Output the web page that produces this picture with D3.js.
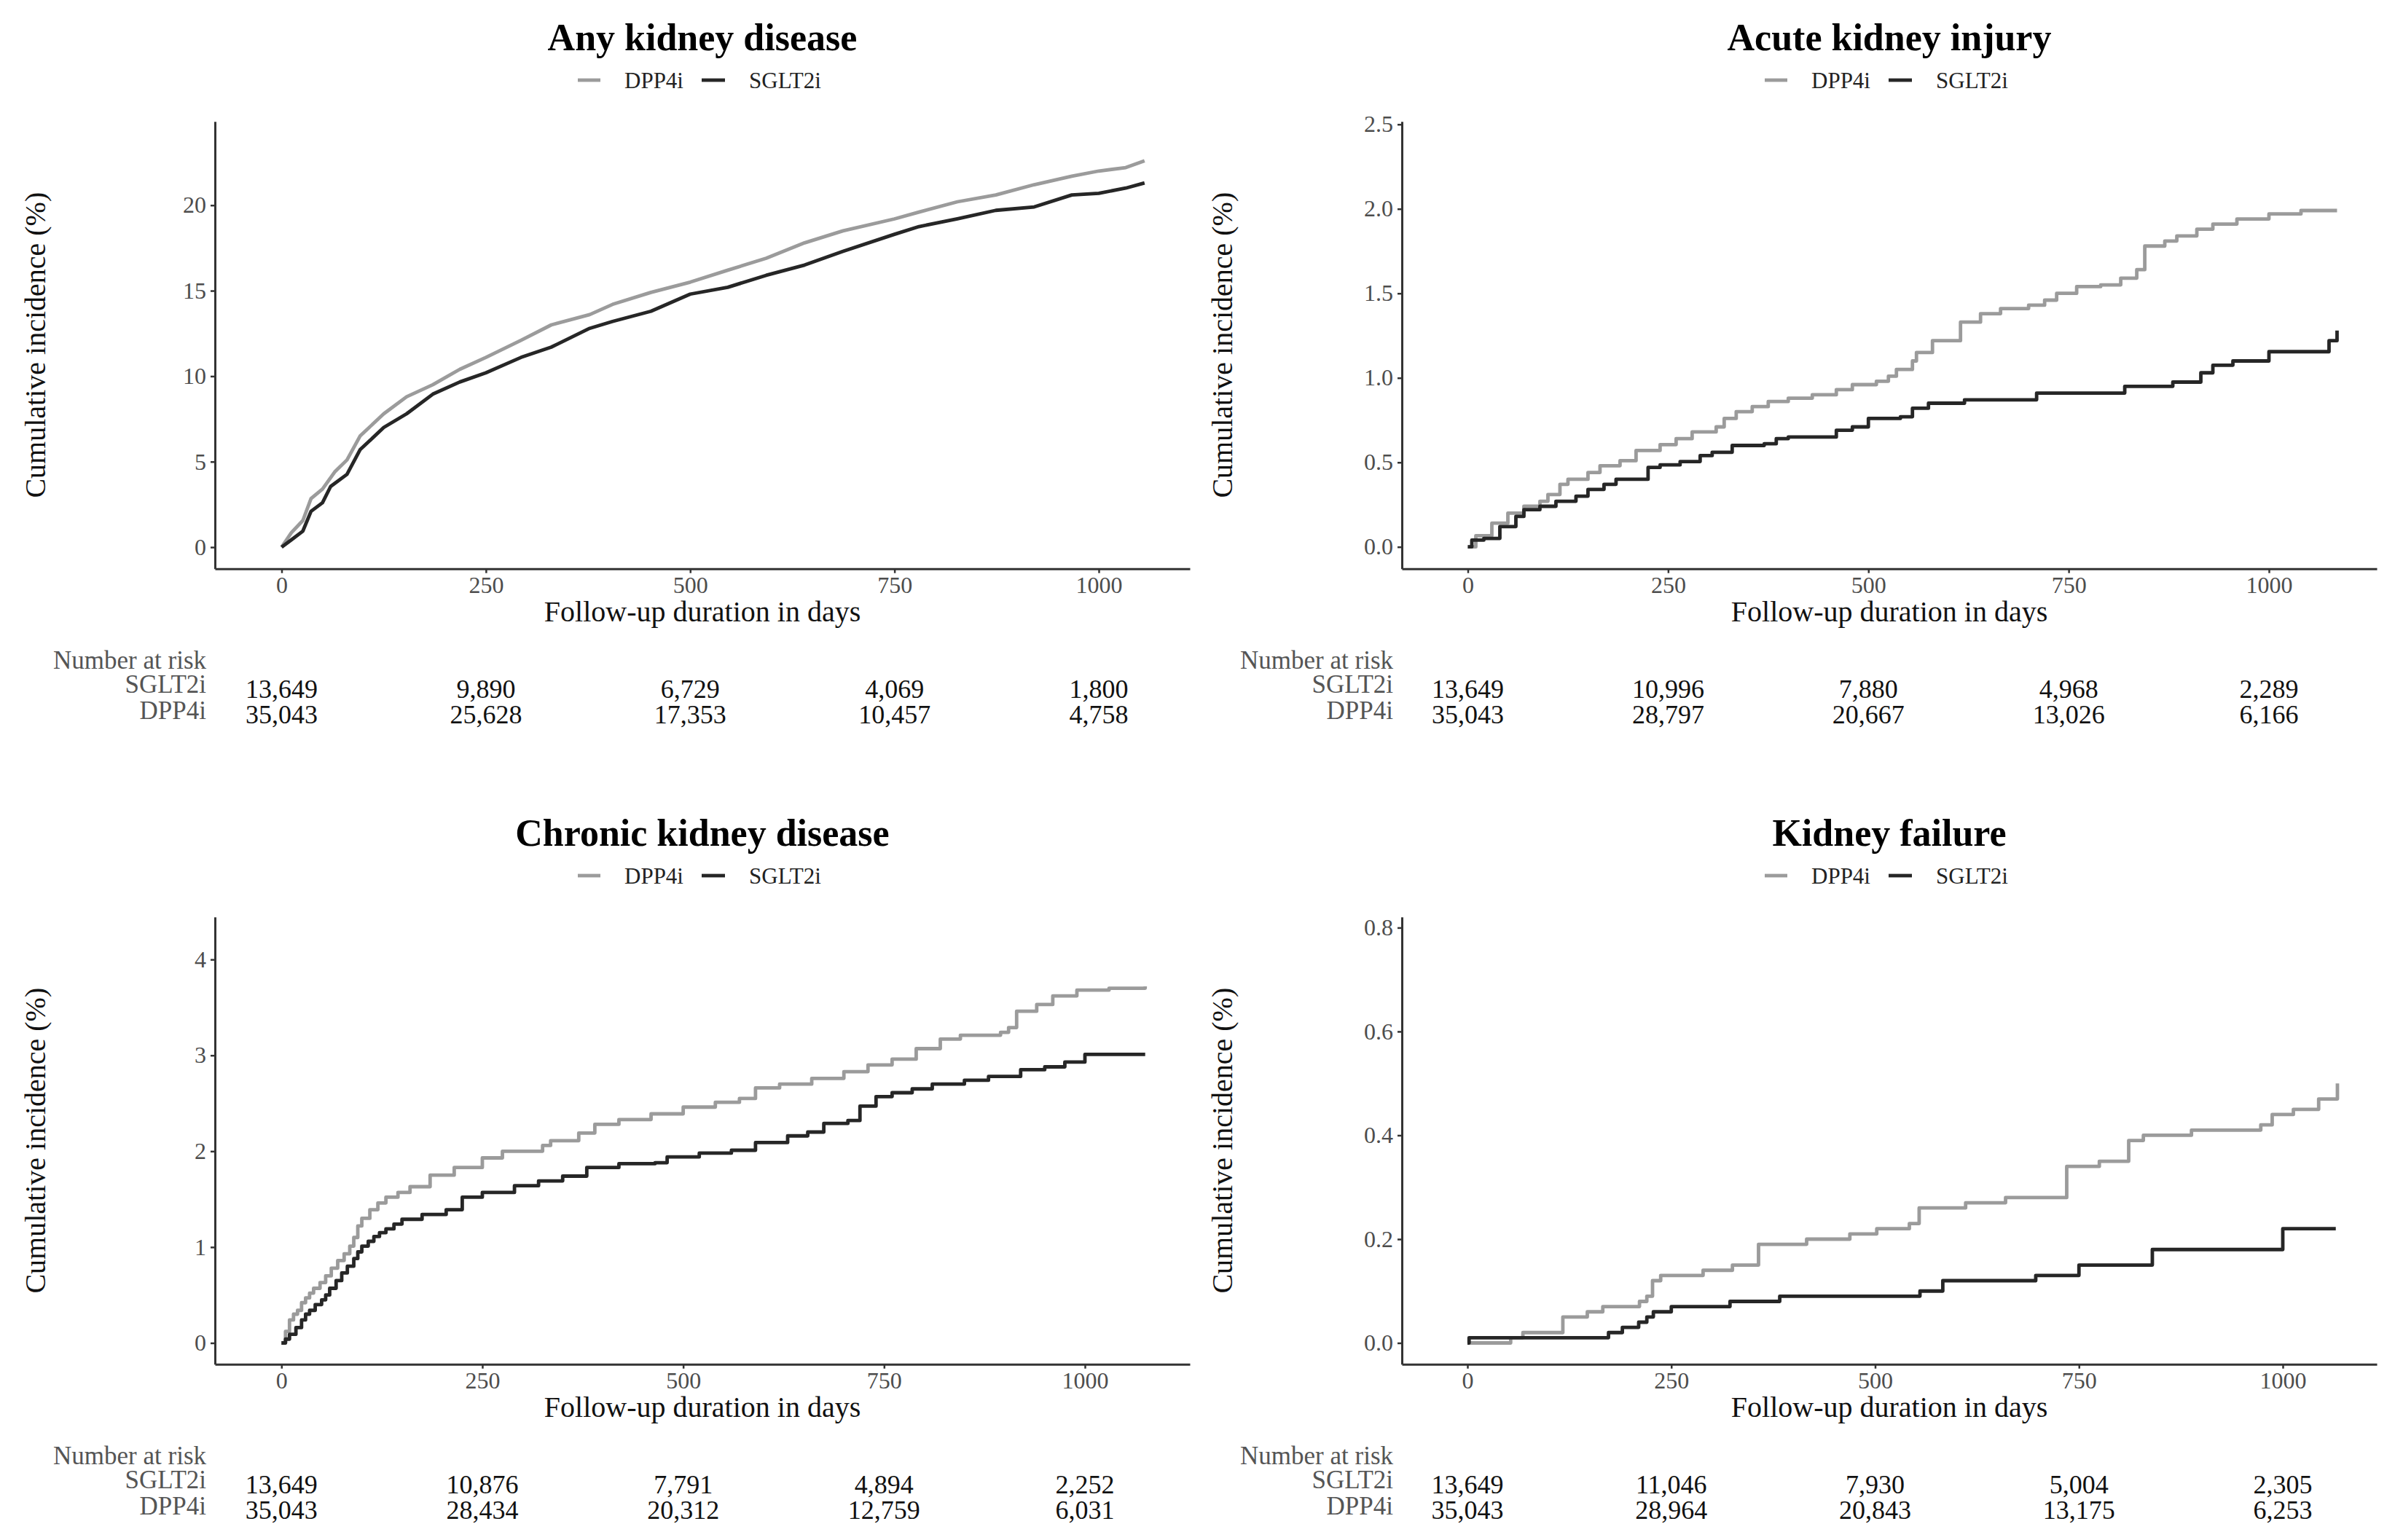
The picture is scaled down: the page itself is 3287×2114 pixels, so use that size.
<!DOCTYPE html>
<html>
<head>
<meta charset="utf-8">
<script src="https://cdn.jsdelivr.net/npm/d3@7"></script>
<style>
  html, body { margin: 0; padding: 0; background: #ffffff; }
  svg { display: block; }
  text { font-family: "Liberation Serif", "Times New Roman", serif; }
</style>
</head>
<body>
<svg id="chart" width="3287" height="2114"></svg>
<script>
// ---------------- DATA ----------------
const panelTitles = ["Any kidney disease", "Acute kidney injury", "Chronic kidney disease", "Kidney failure"];
const seriesNames = ["DPP4i", "SGLT2i"];
const riskTimes = [0, 250, 500, 750, 1000];
const xTickValues = [0, 250, 500, 750, 1000];

// Panel 1: Any kidney disease
const anyDppDays  = [0,12,26,36,50,65,80,96,125,153,185,218,250,293,330,377,405,452,500,546,593,640,687,750,780,827,874,921,967,1000,1033,1056];
const anyDppVals  = [0,0.85,1.56,2.84,3.4,4.4,5.1,6.5,7.8,8.8,9.5,10.4,11.1,12.1,13.0,13.6,14.2,14.9,15.5,16.2,16.9,17.8,18.5,19.2,19.6,20.2,20.6,21.2,21.7,22.0,22.2,22.6];
const anySgltDays = [0,12,26,36,50,60,80,96,125,153,185,218,250,293,330,377,405,452,500,546,593,640,687,750,780,827,874,921,967,1000,1033,1056];
const anySgltVals = [0,0.43,0.94,2.1,2.6,3.55,4.26,5.7,7.0,7.8,8.95,9.66,10.2,11.1,11.7,12.8,13.2,13.8,14.8,15.2,15.9,16.5,17.3,18.3,18.75,19.2,19.7,19.9,20.6,20.7,21.0,21.3];
const anyYTicks   = [0, 5, 10, 15, 20];
const anyRiskSglt = ["13,649", "9,890", "6,729", "4,069", "1,800"];
const anyRiskDpp  = ["35,043", "25,628", "17,353", "10,457", "4,758"];

// Panel 2: Acute kidney injury
const akiDppDays  = [0,10,30,50,70,90,100,115,125,150,165,190,210,240,260,280,310,320,335,355,375,400,430,460,480,510,525,535,555,560,580,615,640,665,700,720,735,760,790,815,835,845,870,885,910,930,960,1000,1040,1085];
const akiDppVals  = [0,0.066,0.14,0.2,0.24,0.27,0.31,0.37,0.4,0.44,0.48,0.51,0.57,0.605,0.64,0.68,0.71,0.76,0.80,0.83,0.86,0.88,0.90,0.93,0.96,0.98,1.01,1.05,1.10,1.15,1.22,1.33,1.38,1.41,1.43,1.46,1.50,1.54,1.55,1.59,1.64,1.78,1.81,1.84,1.88,1.91,1.94,1.97,1.99,1.99];
const akiSgltDays = [0,5,20,40,60,70,90,110,135,150,170,185,225,240,265,290,305,330,370,385,400,460,480,500,540,555,575,620,710,820,880,915,930,955,1000,1075,1085];
const akiSgltVals = [0,0.04,0.05,0.12,0.18,0.22,0.24,0.27,0.30,0.34,0.37,0.40,0.47,0.485,0.505,0.54,0.56,0.60,0.61,0.64,0.65,0.69,0.71,0.76,0.77,0.82,0.85,0.87,0.91,0.95,0.975,1.03,1.075,1.10,1.155,1.22,1.28];
const akiYTicks   = [0, 0.5, 1.0, 1.5, 2.0, 2.5];
const akiRiskSglt = ["13,649", "10,996", "7,880", "4,968", "2,289"];
const akiRiskDpp  = ["35,043", "28,797", "20,667", "13,026", "6,166"];

// Panel 3: Chronic kidney disease
const ckdDppDays  = [0,5,10,15,20,25,30,35,40,48,55,62,70,78,85,90,95,100,110,120,130,145,160,185,215,250,275,325,335,370,390,420,460,500,540,570,590,620,660,700,730,760,790,820,845,895,905,915,940,960,990,1030,1075];
const ckdDppVals  = [0,0.12,0.24,0.3,0.34,0.42,0.47,0.52,0.57,0.63,0.70,0.78,0.86,0.93,1.01,1.1,1.22,1.3,1.39,1.46,1.52,1.57,1.63,1.75,1.83,1.93,2.0,2.06,2.11,2.19,2.28,2.33,2.39,2.46,2.51,2.55,2.66,2.70,2.76,2.83,2.90,2.96,3.07,3.17,3.21,3.24,3.29,3.46,3.53,3.62,3.68,3.70,3.72];
const ckdSgltDays = [0,5,10,18,25,30,35,42,50,55,60,68,75,82,90,95,100,108,115,122,130,140,150,175,205,225,250,290,320,350,380,420,465,480,520,560,590,630,655,675,705,720,740,760,785,810,850,880,920,950,975,1000,1075];
const ckdSgltVals = [0,0.04,0.09,0.16,0.24,0.3,0.34,0.4,0.45,0.5,0.57,0.65,0.73,0.8,0.88,0.95,1.01,1.06,1.11,1.15,1.19,1.24,1.29,1.34,1.39,1.52,1.57,1.64,1.69,1.74,1.83,1.87,1.88,1.94,1.98,2.01,2.09,2.16,2.20,2.29,2.32,2.47,2.57,2.61,2.65,2.70,2.74,2.78,2.85,2.88,2.93,3.01,3.01];
const ckdYTicks   = [0, 1, 2, 3, 4];
const ckdRiskSglt = ["13,649", "10,876", "7,791", "4,894", "2,252"];
const ckdRiskDpp  = ["35,043", "28,434", "20,312", "12,759", "6,031"];

// Panel 4: Kidney failure
const kfDppDays  = [0,53,68,117,147,166,211,220,227,237,289,325,357,416,469,502,542,554,611,660,735,775,811,829,888,973,987,1013,1044,1067];
const kfDppVals  = [0,0.01,0.02,0.05,0.06,0.07,0.08,0.09,0.12,0.13,0.14,0.15,0.19,0.20,0.21,0.22,0.23,0.26,0.27,0.28,0.34,0.35,0.39,0.40,0.41,0.42,0.44,0.45,0.47,0.50];
const kfSgltDays = [0,2,173,190,210,220,228,250,322,383,555,583,697,750,840,1000,1065];
const kfSgltVals = [0,0.01,0.02,0.03,0.04,0.05,0.06,0.07,0.08,0.09,0.10,0.12,0.13,0.15,0.18,0.22,0.22];
const kfYTicks   = [0, 0.2, 0.4, 0.6, 0.8];
const kfRiskSglt = ["13,649", "11,046", "7,930", "5,004", "2,305"];
const kfRiskDpp  = ["35,043", "28,964", "20,843", "13,175", "6,253"];

// ---------------- LAYOUT (pixel geometry only) ----------------
const layout = [
  { left: 295,  right: 1633, top: 166.7,  bottom: 780.7,  x0: 386.5, x1000: 1508, y0: 751.1,  yMaxPx: 281.7 },
  { left: 1924, right: 3262, top: 166.7,  bottom: 780.7,  x0: 2014.5, x1000: 3114, y0: 750.7, yMaxPx: 170.7 },
  { left: 295,  right: 1633, top: 1258.7, bottom: 1872.7, x0: 386.3, x1000: 1489, y0: 1843.5, yMaxPx: 1317.1 },
  { left: 1924, right: 3262, top: 1258.7, bottom: 1872.7, x0: 2014, x1000: 3133, y0: 1843.5, yMaxPx: 1273.4 }
];

const colors = { DPP4i: "#9b9b9b", SGLT2i: "#262626" };
const axisColor = "#333333";
const tickTextColor = "#4d4d4d";
const curveWidth = 4.8;

const panels = [
  { title: panelTitles[0], dpp: [anyDppDays, anyDppVals], sglt: [anySgltDays, anySgltVals], yTicks: anyYTicks, fmt: d3.format("d"),   curve: d3.curveLinear,    riskSglt: anyRiskSglt, riskDpp: anyRiskDpp },
  { title: panelTitles[1], dpp: [akiDppDays, akiDppVals], sglt: [akiSgltDays, akiSgltVals], yTicks: akiYTicks, fmt: d3.format(".1f"), curve: d3.curveStepAfter, riskSglt: akiRiskSglt, riskDpp: akiRiskDpp },
  { title: panelTitles[2], dpp: [ckdDppDays, ckdDppVals], sglt: [ckdSgltDays, ckdSgltVals], yTicks: ckdYTicks, fmt: d3.format("d"),   curve: d3.curveStepAfter, riskSglt: ckdRiskSglt, riskDpp: ckdRiskDpp },
  { title: panelTitles[3], dpp: [kfDppDays, kfDppVals],   sglt: [kfSgltDays, kfSgltVals],   yTicks: kfYTicks,  fmt: d3.format(".1f"), curve: d3.curveStepAfter, riskSglt: kfRiskSglt,  riskDpp: kfRiskDpp }
];

const svg = d3.select("#chart");
svg.append("rect").attr("width", 3287).attr("height", 2114).attr("fill", "#ffffff");

panels.forEach((p, i) => {
  const L = layout[i];
  const g = svg.append("g");

  // scales: anchored on tick positions, domain extended to the panel edges
  const xBase = d3.scaleLinear().domain([0, 1000]).range([L.x0, L.x1000]);
  const x = d3.scaleLinear().domain([xBase.invert(L.left), xBase.invert(L.right)]).range([L.left, L.right]);
  const yMax = p.yTicks[p.yTicks.length - 1];
  const yBase = d3.scaleLinear().domain([0, yMax]).range([L.y0, L.yMaxPx]);
  const y = d3.scaleLinear().domain([yBase.invert(L.bottom), yBase.invert(L.top)]).range([L.bottom, L.top]);

  const cx = (L.left + L.right) / 2;

  // Title
  g.append("text").attr("x", cx).attr("y", L.top - 97.4)
    .attr("text-anchor", "middle").attr("font-size", 52).attr("font-weight", "bold")
    .attr("fill", "#000").text(p.title);

  // Legend
  const ly = L.top - 56.7;
  const leg = g.append("g");
  leg.append("line").attr("x1", cx - 171).attr("x2", cx - 140).attr("y1", ly).attr("y2", ly)
    .attr("stroke", colors.DPP4i).attr("stroke-width", curveWidth);
  leg.append("text").attr("x", cx - 107).attr("y", ly + 10.7).attr("font-size", 31)
    .attr("fill", "#222").text(seriesNames[0]);
  leg.append("line").attr("x1", cx - 1).attr("x2", cx + 31).attr("y1", ly).attr("y2", ly)
    .attr("stroke", colors.SGLT2i).attr("stroke-width", curveWidth);
  leg.append("text").attr("x", cx + 64).attr("y", ly + 10.7).attr("font-size", 31)
    .attr("fill", "#222").text(seriesNames[1]);

  // Curves
  const line = d3.line().x(d => x(d[0])).y(d => y(d[1])).curve(p.curve);
  const dppPts = p.dpp[0].map((d, k) => [d, p.dpp[1][k]]);
  const sgltPts = p.sglt[0].map((d, k) => [d, p.sglt[1][k]]);
  g.append("path").datum(dppPts).attr("d", line).attr("fill", "none")
    .attr("stroke", colors.DPP4i).attr("stroke-width", curveWidth).attr("stroke-linejoin", "round");
  g.append("path").datum(sgltPts).attr("d", line).attr("fill", "none")
    .attr("stroke", colors.SGLT2i).attr("stroke-width", curveWidth).attr("stroke-linejoin", "round");

  // Axes
  const xAxis = d3.axisBottom(x).tickValues(xTickValues).tickSizeInner(6).tickSizeOuter(0).tickPadding(5)
    .tickFormat(d3.format("d"));
  const gx = g.append("g").attr("transform", `translate(0,${L.bottom})`).call(xAxis);
  const yAxis = d3.axisLeft(y).tickValues(p.yTicks).tickSizeInner(6).tickSizeOuter(0).tickPadding(6)
    .tickFormat(p.fmt);
  const gy = g.append("g").attr("transform", `translate(${L.left},0)`).call(yAxis);
  [gx, gy].forEach(ax => {
    ax.select(".domain").attr("stroke", axisColor).attr("stroke-width", 3);
    ax.selectAll(".tick line").attr("stroke", axisColor).attr("stroke-width", 2.5);
    ax.selectAll(".tick text").attr("fill", tickTextColor).attr("font-size", 32)
      .attr("font-family", "'Liberation Serif', 'Times New Roman', serif");
  });

  // Axis titles
  g.append("text").attr("x", cx).attr("y", L.bottom + 72).attr("text-anchor", "middle")
    .attr("font-size", 40).attr("fill", "#111").text("Follow-up duration in days");
  g.append("text").attr("transform", `translate(${L.left - 233},${(L.top + L.bottom) / 2}) rotate(-90)`)
    .attr("text-anchor", "middle").attr("font-size", 40).attr("fill", "#111")
    .text("Cumulative incidence (%)");

  // Number at risk table
  const tb = g.append("g");
  tb.append("text").attr("x", L.left - 12).attr("y", L.bottom + 137.5).attr("text-anchor", "end")
    .attr("font-size", 35).attr("fill", "#555").text("Number at risk");
  tb.append("text").attr("x", L.left - 12).attr("y", L.bottom + 170.3).attr("text-anchor", "end")
    .attr("font-size", 35).attr("fill", "#555").text(seriesNames[1]);
  tb.append("text").attr("x", L.left - 12).attr("y", L.bottom + 205.8).attr("text-anchor", "end")
    .attr("font-size", 35).attr("fill", "#555").text(seriesNames[0]);
  tb.selectAll(".rs").data(riskTimes).enter().append("text")
    .attr("x", d => x(d)).attr("y", L.bottom + 177.3).attr("text-anchor", "middle")
    .attr("font-size", 36).attr("fill", "#111").text((d, k) => p.riskSglt[k]);
  tb.selectAll(".rd").data(riskTimes).enter().append("text")
    .attr("x", d => x(d)).attr("y", L.bottom + 212.5).attr("text-anchor", "middle")
    .attr("font-size", 36).attr("fill", "#111").text((d, k) => p.riskDpp[k]);
});
</script>
</body>
</html>
